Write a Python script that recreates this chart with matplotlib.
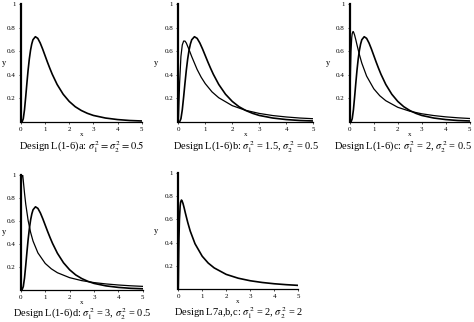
import matplotlib.pyplot as plt
from matplotlib.transforms import offset_copy

plt.rcParams['font.family'] = ['Liberation Serif', 'DejaVu Serif']
plt.rcParams['mathtext.fontset'] = 'stix'

# density curves
xa = [0, 0.05, 0.1, 0.15, 0.2, 0.25, 0.3, 0.35, 0.4, 0.45, 0.5, 0.6, 0.7, 0.8, 0.9, 1.0,
      1.1, 1.2, 1.3, 1.5, 1.75, 2.0, 2.25, 2.5, 2.75, 3.0, 3.5, 4.0, 4.5, 5.0]
ya = [0, 0.001, 0.028, 0.103, 0.212, 0.330, 0.441, 0.535, 0.609, 0.662, 0.698, 0.724, 0.710,
      0.671, 0.620, 0.564, 0.508, 0.455, 0.405, 0.319, 0.236, 0.175, 0.130, 0.098, 0.074,
      0.056, 0.034, 0.021, 0.013, 0.009]

xb = [0, 0.01, 0.02, 0.05, 0.1, 0.15, 0.2, 0.25, 0.3, 0.4, 0.5, 0.7, 0.85, 1.0, 1.25, 1.5,
      2.0, 2.5, 3.0, 3.5, 4.0, 4.5, 5.0]
yb = [0, 0.028, 0.099, 0.327, 0.557, 0.654, 0.687, 0.687, 0.670, 0.615, 0.555, 0.446, 0.380,
      0.326, 0.256, 0.206, 0.139, 0.099, 0.073, 0.055, 0.043, 0.034, 0.028]

xc = [0, 0.005, 0.01, 0.02, 0.03, 0.05, 0.08, 0.1, 0.135, 0.16, 0.2, 0.25, 0.3, 0.4, 0.5,
      0.7, 1.0, 1.25, 1.5, 2.0, 2.5, 3.0, 3.5, 4.0, 4.5, 5.0]
yc = [0, 0.050, 0.140, 0.308, 0.434, 0.598, 0.716, 0.750, 0.768, 0.761, 0.738, 0.698, 0.654,
      0.572, 0.500, 0.390, 0.282, 0.223, 0.181, 0.125, 0.092, 0.070, 0.055, 0.044, 0.036, 0.030]

xd = [0, 0.001, 0.002, 0.005, 0.01, 0.02, 0.03, 0.05, 0.08, 0.1, 0.15, 0.2, 0.3, 0.4, 0.5,
      0.7, 1.0, 1.25, 1.5, 2.0, 2.5, 3.0, 3.5, 4.0, 4.5, 5.0]
yd = [0, 0.081, 0.184, 0.428, 0.672, 0.899, 0.988, 1.032, 0.994, 0.952, 0.843, 0.748, 0.603,
      0.501, 0.425, 0.322, 0.230, 0.183, 0.149, 0.106, 0.080, 0.063, 0.051, 0.042, 0.035, 0.030]

titles = [
    r'Design L(1-6)a: $\sigma_1^{\,2} = \sigma_2^{\,2} = 0.5$',
    r'Design L(1-6)b: $\sigma_1^{\,2}$ = 1.5, $\sigma_2^{\,2}$ = 0.5',
    r'Design L(1-6)c: $\sigma_1^{\,2}$ = 2, $\sigma_2^{\,2}$ = 0.5',
    r'Design L(1-6)d: $\sigma_1^{\,2}$ = 3, $\sigma_2^{\,2}$ = 0.5',
    r'Design L7a,b,c: $\sigma_1^{\,2}$ = 2, $\sigma_2^{\,2}$ = 2',
]
panel_curves = [[(xa, ya)], [(xa, ya), (xb, yb)], [(xa, ya), (xc, yc)],
                [(xa, ya), (xd, yd)], [(xc, yc)]]

boxes = [
    [0.044, 0.621, 0.255, 0.366],
    [0.376, 0.621, 0.285, 0.366],
    [0.738, 0.621, 0.253, 0.366],
    [0.044, 0.100, 0.257, 0.356],
    [0.376, 0.103, 0.253, 0.359],
]
title_x = [0.5, 0.5, 0.44, 0.5, 0.5]
title_dy = [-25, -25, -25, -24, -24]
ylabel_pad = [2, 6, 6, 2, 6]

fig = plt.figure(figsize=(4.74, 3.22), dpi=100)

for box, curves, title, tx, dy, lp in zip(boxes, panel_curves, titles,
                                         title_x, title_dy, ylabel_pad):
    ax = fig.add_axes(box)
    for i, (x, y) in enumerate(curves):
        ax.plot(x, y, color='black', lw=1.2 if i == 0 else 0.9)
    ax.set_xlim(0, 5)
    ax.set_ylim(0, 1)
    ax.spines['top'].set_visible(False)
    ax.spines['right'].set_visible(False)
    ax.spines['left'].set_linewidth(1.6)
    ax.spines['bottom'].set_linewidth(0.9)
    ax.set_xticks([0, 1, 2, 3, 4, 5])
    ax.set_xticklabels(['0', '1', '2', '3', '4', '5'])
    ax.set_yticks([0.2, 0.4, 0.6, 0.8, 1])
    ax.set_yticklabels(['0.2', '0.4', '0.6', '0.8', '1'])
    ax.tick_params(labelsize=5, length=1.5, width=0.5, pad=2)
    ax.set_xlabel('x', fontsize=5, labelpad=0)
    ax.set_ylabel('y', fontsize=6, rotation=0, labelpad=lp, va='center')
    # caption sits about 24 px under the x axis
    tr = offset_copy(ax.transAxes, fig=fig, y=dy, units='dots')
    ax.text(tx, 0, title, transform=tr, ha='center', va='center', fontsize=7.5)

plt.savefig('out.png', dpi=100)
